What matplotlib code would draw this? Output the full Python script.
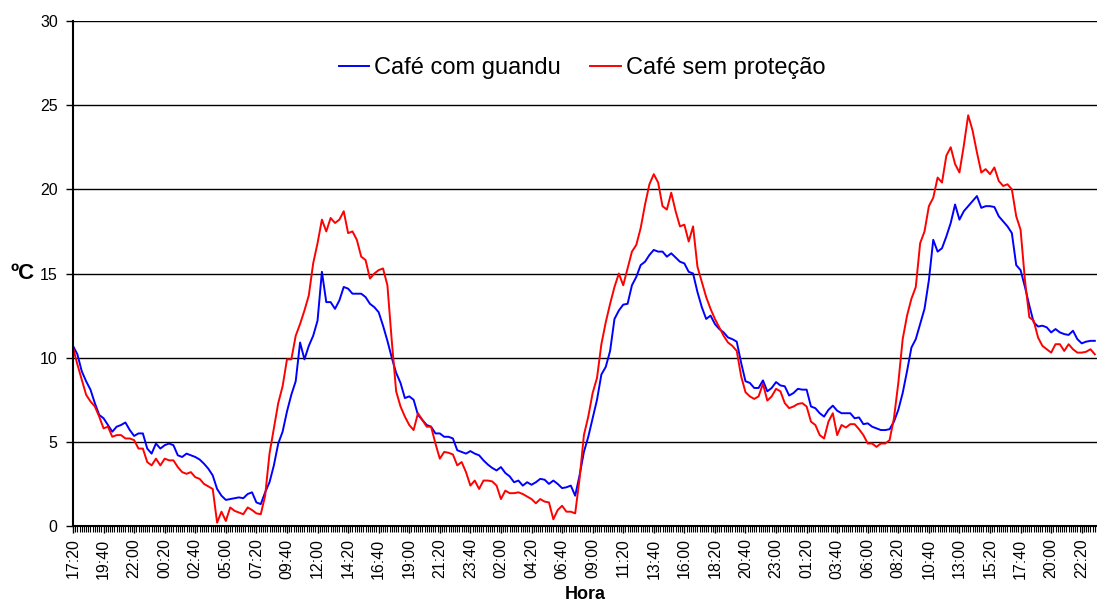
import numpy as np
import matplotlib
matplotlib.use("Agg")
import matplotlib.pyplot as plt
from matplotlib.ticker import MultipleLocator

plt.rcParams['font.family'] = ['Liberation Sans', 'DejaVu Sans']

# readings every 20 min starting 17:20 (one row = 2h20, one tick label)
cafe_guandu = [
    10.7, 10.2, 9.2, 8.6, 8.1, 7.3, 6.6,
    6.4, 6.0, 5.6, 5.9, 6.0, 6.15, 5.7,
    5.35, 5.5, 5.5, 4.6, 4.3, 4.9, 4.6,
    4.8, 4.9, 4.8, 4.2, 4.1, 4.3, 4.2,
    4.1, 3.95, 3.7, 3.4, 3.0, 2.2, 1.8,
    1.55, 1.6, 1.65, 1.7, 1.65, 1.9, 2.0,
    1.4, 1.3, 2.0, 2.6, 3.6, 4.9, 5.6,
    6.8, 7.8, 8.6, 10.9, 9.9, 10.7, 11.3,
    12.2, 15.1, 13.3, 13.3, 12.9, 13.4, 14.2,
    14.1, 13.8, 13.8, 13.8, 13.6, 13.2, 13.0,
    12.7, 11.9, 11.0, 10.0, 9.1, 8.5, 7.6,
    7.7, 7.5, 6.6, 6.3, 6.0, 5.9, 5.5,
    5.5, 5.3, 5.3, 5.2, 4.5, 4.4, 4.3,
    4.45, 4.3, 4.2, 3.9, 3.65, 3.45, 3.3,
    3.5, 3.15, 2.95, 2.6, 2.7, 2.4, 2.6,
    2.45, 2.6, 2.8, 2.75, 2.5, 2.7, 2.5,
    2.25, 2.3, 2.4, 1.8, 3.0, 4.4, 5.3,
    6.4, 7.5, 9.0, 9.45, 10.4, 12.3, 12.8,
    13.15, 13.2, 14.3, 14.8, 15.5, 15.7, 16.1,
    16.4, 16.3, 16.3, 16.0, 16.2, 15.95, 15.7,
    15.6, 15.1, 15.0, 13.9, 13.0, 12.3, 12.5,
    12.0, 11.7, 11.5, 11.2, 11.1, 10.95, 9.7,
    8.6, 8.5, 8.2, 8.2, 8.65, 8.0, 8.2,
    8.55, 8.35, 8.3, 7.75, 7.9, 8.15, 8.1,
    8.1, 7.1, 7.0, 6.7, 6.5, 6.9, 7.15,
    6.85, 6.7, 6.7, 6.7, 6.4, 6.45, 6.05,
    6.1, 5.9, 5.8, 5.7, 5.7, 5.75, 6.2,
    6.9, 7.9, 9.2, 10.6, 11.1, 12.0, 12.9,
    14.6, 17.0, 16.3, 16.5, 17.2, 18.0, 19.1,
    18.2, 18.7, 19.0, 19.3, 19.6, 18.9, 19.0,
    19.0, 18.95, 18.4, 18.1, 17.8, 17.4, 15.5,
    15.2, 14.2, 13.1, 12.1, 11.85, 11.9, 11.8,
    11.5, 11.7, 11.5, 11.4, 11.35, 11.6, 11.1,
    10.85, 10.95, 11.0, 11.0,
]

cafe_sem_protecao = [
    10.6, 9.6, 8.7, 7.8, 7.4, 7.1, 6.5,
    5.8, 5.9, 5.3, 5.4, 5.4, 5.2, 5.2,
    5.1, 4.6, 4.6, 3.8, 3.6, 4.0, 3.6,
    4.0, 3.9, 3.9, 3.5, 3.2, 3.1, 3.2,
    2.9, 2.8, 2.5, 2.35, 2.2, 0.2, 0.85,
    0.3, 1.1, 0.9, 0.8, 0.7, 1.1, 0.95,
    0.75, 0.7, 1.8, 4.3, 5.8, 7.3, 8.3,
    9.9, 9.9, 11.3, 12.0, 12.8, 13.7, 15.6,
    16.8, 18.2, 17.5, 18.3, 18.0, 18.2, 18.7,
    17.4, 17.5, 17.0, 16.0, 15.8, 14.7, 15.0,
    15.2, 15.3, 14.3, 11.0, 8.0, 7.1, 6.5,
    6.0, 5.7, 6.7, 6.3, 5.9, 5.9, 4.9,
    4.0, 4.4, 4.35, 4.25, 3.6, 3.8, 3.2,
    2.4, 2.7, 2.2, 2.7, 2.7, 2.65, 2.4,
    1.6, 2.1, 1.95, 1.95, 2.0, 1.9, 1.75,
    1.6, 1.35, 1.6, 1.45, 1.4, 0.4, 0.95,
    1.2, 0.85, 0.85, 0.75, 2.8, 5.4, 6.5,
    7.9, 8.8, 10.8, 12.1, 13.2, 14.2, 15.0,
    14.3, 15.3, 16.3, 16.7, 17.7, 19.1, 20.3,
    20.9, 20.4, 19.0, 18.8, 19.8, 18.7, 17.8,
    17.9, 16.9, 17.8, 15.4, 14.5, 13.6, 12.9,
    12.3, 11.8, 11.3, 10.9, 10.7, 10.4, 8.9,
    7.95, 7.7, 7.55, 7.7, 8.45, 7.45, 7.7,
    8.15, 8.0, 7.3, 7.0, 7.1, 7.25, 7.3,
    7.1, 6.2, 6.0, 5.4, 5.2, 6.2, 6.7,
    5.4, 6.0, 5.85, 6.05, 6.05, 5.75, 5.4,
    4.9, 4.9, 4.7, 4.9, 4.9, 5.1, 6.4,
    8.5, 11.1, 12.5, 13.5, 14.2, 16.8, 17.5,
    19.0, 19.5, 20.7, 20.4, 22.0, 22.5, 21.5,
    21.0, 22.6, 24.4, 23.5, 22.2, 21.0, 21.2,
    20.9, 21.3, 20.5, 20.2, 20.3, 20.0, 18.4,
    17.6, 14.6, 12.4, 12.2, 11.2, 10.7, 10.5,
    10.3, 10.8, 10.8, 10.4, 10.8, 10.5, 10.3,
    10.3, 10.35, 10.5, 10.2,
]

hora_labels = [
    "17:20", "19:40", "22:00", "00:20", "02:40", "05:00", "07:20",
    "09:40", "12:00", "14:20", "16:40", "19:00", "21:20", "23:40",
    "02:00", "04:20", "06:40", "09:00", "11:20", "13:40", "16:00",
    "18:20", "20:40", "23:00", "01:20", "03:40", "06:00", "08:20",
    "10:40", "13:00", "15:20", "17:40", "20:00", "22:20",
]


def main():
    # x in 10-minute steps (the readings are 20 min apart)
    x = np.arange(len(cafe_guandu)) * 2

    fig = plt.figure(figsize=(10.97, 6.09), dpi=100)
    ax = fig.add_axes([73 / 1097, 83 / 609, 1024 / 1097, 505 / 609])

    ax.plot(x, cafe_guandu, color='#0000ff', linewidth=1.4, label="Café com guandu")
    ax.plot(x, cafe_sem_protecao, color='#ff0000', linewidth=1.4, label="Café sem proteção")

    ax.set_xlim(0, 469)
    ax.set_ylim(0, 30)
    ax.set_yticks(range(0, 31, 5))
    ax.set_xticks(np.arange(len(hora_labels)) * 14)
    ax.set_xticklabels(hora_labels, rotation=90, fontsize=11.5)
    ax.xaxis.set_minor_locator(MultipleLocator(1))
    ax.tick_params(axis='y', labelsize=11.5, direction='out', length=5, width=1, pad=6)
    ax.tick_params(axis='x', which='major', direction='out', length=5, width=1, pad=4)
    ax.tick_params(axis='x', which='minor', direction='out', length=4, width=0.8)

    ax.yaxis.grid(True, color='black', linewidth=1)
    ax.set_axisbelow(True)
    for side in ['top', 'right']:
        ax.spines[side].set_visible(False)
    for side in ['left', 'bottom']:
        ax.spines[side].set_linewidth(1.5)

    ax.set_xlabel("Hora", fontsize=13, fontweight='bold', labelpad=5)
    ax.set_ylabel("ºC", fontsize=16, fontweight='bold', rotation=0, ha='center', va='center')
    ax.yaxis.set_label_coords(-0.049, 0.5)

    ax.legend(loc='center', bbox_to_anchor=(582 / 1097, 1 - 68 / 609),
              bbox_transform=fig.transFigure, ncol=2, frameon=False, fontsize=17,
              handlelength=1.3, handletextpad=0.2, columnspacing=1.25)

    fig.savefig("out.png", dpi=100)


if __name__ == "__main__":
    main()
